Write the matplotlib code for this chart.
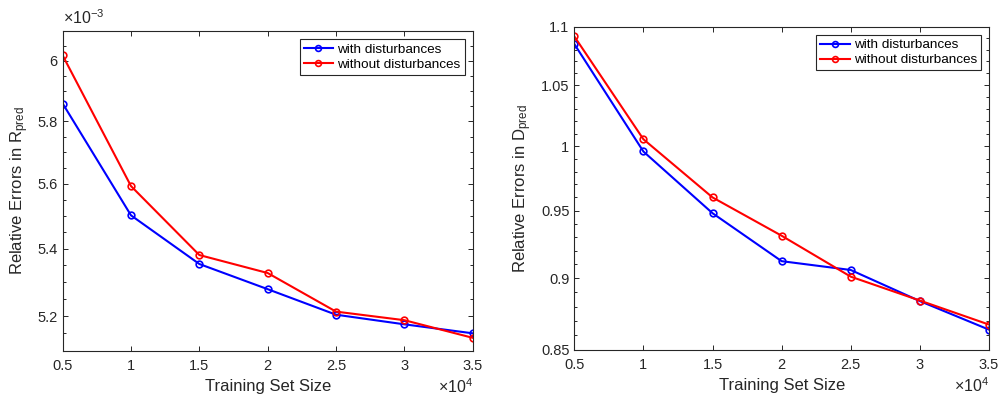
import numpy as np
import matplotlib
matplotlib.use("Agg")
import matplotlib.pyplot as plt
from matplotlib.ticker import FixedLocator, FuncFormatter, NullFormatter

plt.rcParams["font.family"] = ["Liberation Sans", "DejaVu Sans"]
plt.rcParams["mathtext.fontset"] = "custom"
plt.rcParams["mathtext.rm"] = "Liberation Sans"
plt.rcParams["mathtext.it"] = "Liberation Sans:italic"

# training set sizes
train_size = [5000, 10000, 15000, 20000, 25000, 30000, 35000]

# relative errors in R_pred
r_with = [5.858e-3, 5.502e-3, 5.354e-3, 5.279e-3, 5.204e-3, 5.176e-3, 5.150e-3]
r_without = [6.018e-3, 5.593e-3, 5.381e-3, 5.327e-3, 5.213e-3, 5.188e-3, 5.137e-3]

# relative errors in D_pred
d_with = [1.085, 0.9958, 0.948, 0.9124, 0.906, 0.8838, 0.8639]
d_without = [1.0916, 1.0056, 0.960, 0.9311, 0.9012, 0.8842, 0.8674]

x_ticks = [5000, 10000, 15000, 20000, 25000, 30000, 35000]
r_ticks = [5.2e-3, 5.4e-3, 5.6e-3, 5.8e-3, 6.0e-3]
d_ticks = [0.85, 0.9, 0.95, 1.0, 1.05, 1.1]

axcol = "#262626"
fig = plt.figure(figsize=(10.01, 3.97), dpi=100)
ax1 = fig.add_axes([0.0626, 0.1166, 0.4096, 0.8046])
ax2 = fig.add_axes([0.5737, 0.1184, 0.4143, 0.8143])


def fmt_num(v):
    return "%g" % v


def style(ax):
    ax.set_xlim(5000, 35000)
    ax.set_xticks(x_ticks)
    ax.xaxis.set_major_formatter(FuncFormatter(lambda v, p: fmt_num(round(v / 1e4, 4))))
    ax.tick_params(which="both", direction="in", top=True, right=True,
                   colors=axcol, labelsize=10.5, width=0.7)
    ax.tick_params(axis="x", pad=6)
    ax.tick_params(which="major", length=3.5)
    ax.tick_params(which="minor", length=2.5)
    for s in ax.spines.values():
        s.set_color(axcol)
        s.set_linewidth(0.8)
    ax.set_xlabel("Training Set Size", fontsize=12, color=axcol, labelpad=4)
    # x exponent label, bottom right
    h = ax.get_position().height * 397
    ax.text(1.0, -(393 - 350.5) / h, r"$\times$10$^{4}$", transform=ax.transAxes,
            ha="right", va="baseline", fontsize=11.5, color=axcol)


kw = dict(marker="o", markersize=4.8, markerfacecolor="none",
          markeredgewidth=1.2, linewidth=1.5)

ax1.plot(train_size, r_with, color="#0000ff", label="with disturbances", **kw)
ax1.plot(train_size, r_without, color="#ff0000", label="without disturbances", **kw)
ax1.set_yscale("log")
ax1.set_ylim(5.1e-3, 6.1e-3)
style(ax1)
ax1.yaxis.set_major_locator(FixedLocator(r_ticks))
ax1.yaxis.set_minor_locator(FixedLocator(np.arange(5.1, 6.101, 0.05) * 1e-3))
ax1.yaxis.set_major_formatter(FuncFormatter(lambda v, p: fmt_num(round(v * 1e3, 4))))
ax1.yaxis.set_minor_formatter(NullFormatter())
ax1.set_ylabel(r"Relative Errors in R$_{\mathregular{pred}}$", fontsize=12, color=axcol, labelpad=5)
ax1.text(0.0, 1.012, r"$\times$10$^{-3}$", transform=ax1.transAxes,
         ha="left", va="bottom", fontsize=11.5, color=axcol)

ax2.plot(train_size, d_with, color="#0000ff", label="with disturbances", **kw)
ax2.plot(train_size, d_without, color="#ff0000", label="without disturbances", **kw)
ax2.set_yscale("log")
ax2.set_ylim(0.85, 1.1)
style(ax2)
ax2.yaxis.set_major_locator(FixedLocator(d_ticks))
ax2.yaxis.set_minor_locator(FixedLocator(np.arange(0.85, 1.1001, 0.01)))
ax2.yaxis.set_major_formatter(FuncFormatter(lambda v, p: fmt_num(round(v, 4))))
ax2.yaxis.set_minor_formatter(NullFormatter())
ax2.set_ylabel(r"Relative Errors in D$_{\mathregular{pred}}$", fontsize=12, color=axcol, labelpad=5)

for ax in (ax1, ax2):
    leg = ax.legend(loc="upper right", fontsize=9.7, fancybox=False, framealpha=1,
                    edgecolor=axcol, handlelength=2.2, handletextpad=0.3,
                    borderpad=0.3, labelspacing=0.2, borderaxespad=0.6)
    leg.get_frame().set_linewidth(0.8)
    for h in leg.get_lines():
        h.set_markersize(4.2)

fig.savefig("out.png", dpi=100)
